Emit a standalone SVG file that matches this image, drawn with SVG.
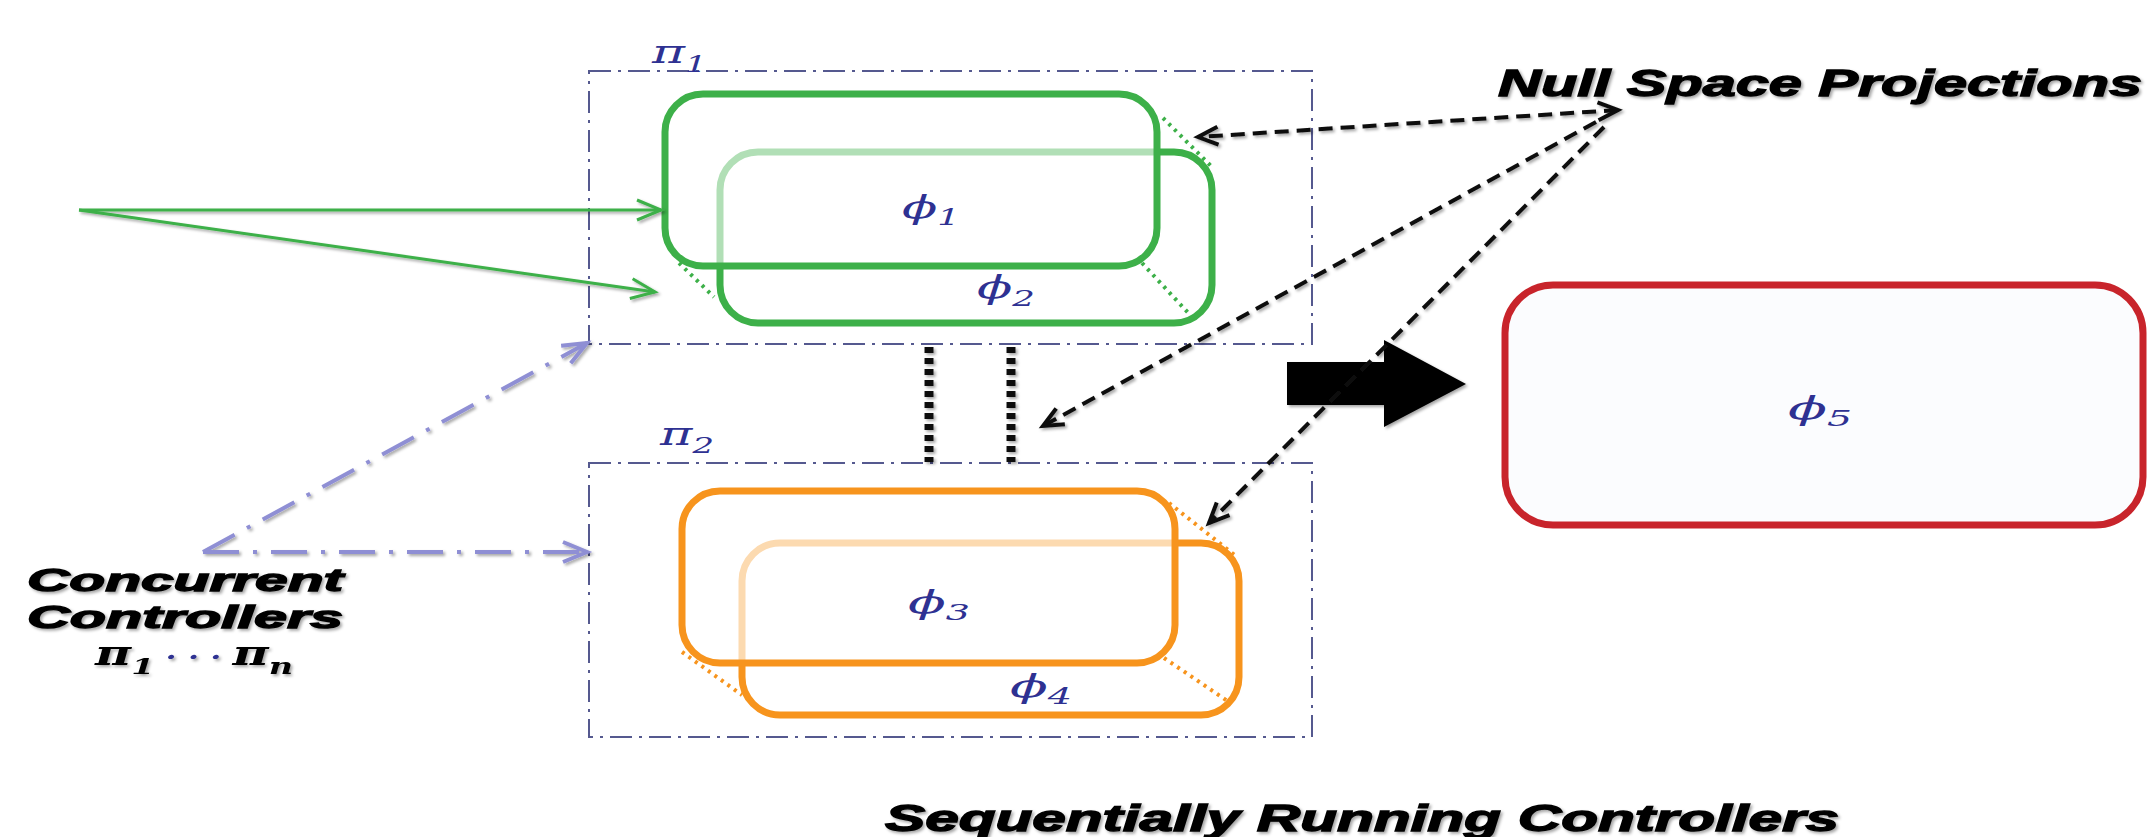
<svg xmlns="http://www.w3.org/2000/svg" width="2147" height="837" viewBox="0 0 2147 837">
<style>
.frame{fill:none;stroke:#55598f;stroke-width:2;stroke-dasharray:22 7 3 7}
.gbox{stroke:#3db049;stroke-width:7}
.obox{stroke:#f7941d;stroke-width:7}
.gdot{stroke:#3db049;stroke-width:4;stroke-dasharray:3 5;fill:none}
.odot{stroke:#f7941d;stroke-width:4;stroke-dasharray:3 5;fill:none}
.math{font-family:"DejaVu Serif","Liberation Serif",serif;font-style:italic;fill:#2e3192}
.big{font-family:"Liberation Sans",Arial,sans-serif;font-weight:bold;font-style:italic;fill:#000;stroke:#000;stroke-width:1.3}
.blk{fill:none;stroke:#111;stroke-width:4;stroke-dasharray:14 8}
.lav{fill:none;stroke:#8f8fd4;stroke-width:4;stroke-dasharray:36 14 4 14}
.grn{fill:none;stroke:#3db049;stroke-width:3}
.bar{fill:none;stroke:#111;stroke-width:9;stroke-dasharray:6 5}
</style>
<defs>
<filter id="sh" filterUnits="userSpaceOnUse" x="0" y="0" width="2147" height="837">
<feDropShadow dx="2" dy="2" stdDeviation="1.5" flood-color="#000" flood-opacity="0.35"/>
</filter>
<marker id="gh" markerUnits="userSpaceOnUse" refX="0" refY="0" markerWidth="40" markerHeight="40" orient="auto" overflow="visible">
<path d="M-24,-10 L0,0 L-24,10" fill="none" stroke="#3db049" stroke-width="3"/>
</marker>
<marker id="bh" markerUnits="userSpaceOnUse" refX="0" refY="0" markerWidth="40" markerHeight="40" orient="auto-start-reverse" overflow="visible">
<path d="M-20,-9 L0,0 L-20,9" fill="none" stroke="#111" stroke-width="4"/>
</marker>
<marker id="lh" markerUnits="userSpaceOnUse" refX="0" refY="0" markerWidth="40" markerHeight="40" orient="auto" overflow="visible">
<path d="M-24,-10 L0,0 L-24,10" fill="none" stroke="#8f8fd4" stroke-width="4"/>
</marker>
</defs>
<rect width="2147" height="837" fill="#fff"/>

<g id="pi1">
<rect class="frame" x="589" y="71" width="723" height="273"/>
<text class="math" x="652" y="63" font-size="32" textLength="55" lengthAdjust="spacingAndGlyphs">π<tspan font-size="22" dy="9">1</tspan></text>
</g>
<g id="pi2">
<rect class="frame" x="589" y="463" width="723" height="274"/>
<text class="math" x="660" y="445" font-size="32" textLength="54" lengthAdjust="spacingAndGlyphs">π<tspan font-size="22" dy="8">2</tspan></text>
</g>

<g id="phi2">
<path class="gdot" d="M1163,118 L1213,168 M679,263 L714,297 M1142,263 L1192,317"/>
<rect class="gbox" x="720" y="152" width="492" height="171" rx="38" fill="none"/>
<text class="math" x="977" y="298" font-size="32" textLength="58" lengthAdjust="spacingAndGlyphs">ϕ<tspan font-size="22" dy="8">2</tspan></text>
</g>
<g id="phi1">
<rect class="gbox" x="665" y="94" width="492" height="172" rx="38" fill="#fff" fill-opacity="0.6"/>
<text class="math" x="902" y="218" font-size="32" textLength="58" lengthAdjust="spacingAndGlyphs">ϕ<tspan font-size="22" dy="7">1</tspan></text>
</g>

<g id="phi4">
<path class="odot" d="M1169,503 L1237,557 M682,652 L742,695 M1164,658 L1229,702"/>
<rect class="obox" x="742" y="543" width="497" height="172" rx="38" fill="none"/>
<text class="math" x="1010" y="697" font-size="32" textLength="62" lengthAdjust="spacingAndGlyphs">ϕ<tspan font-size="22" dy="7">4</tspan></text>
</g>
<g id="phi3">
<rect class="obox" x="682" y="491" width="493" height="172" rx="38" fill="#fff" fill-opacity="0.65"/>
<text class="math" x="908" y="613" font-size="32" textLength="62" lengthAdjust="spacingAndGlyphs">ϕ<tspan font-size="22" dy="7">3</tspan></text>
</g>

<g id="phi5">
<rect x="1505" y="285" width="638" height="240" rx="48" fill="#fbfcfe" stroke="#c8242b" stroke-width="7"/>
<text class="math" x="1788" y="419" font-size="32" textLength="64" lengthAdjust="spacingAndGlyphs">ϕ<tspan font-size="22" dy="7">5</tspan></text>
</g>

<g id="label-null" filter="url(#sh)">
<text class="big" x="1498" y="96" font-size="37" textLength="644" lengthAdjust="spacingAndGlyphs">Null Space Projections</text>
</g>
<g id="label-concurrent" filter="url(#sh)">
<text class="big" x="27" y="591" font-size="31" textLength="316" lengthAdjust="spacingAndGlyphs">Concurrent</text>
<text class="big" x="27" y="628" font-size="31" textLength="316" lengthAdjust="spacingAndGlyphs">Controllers</text>
<text x="95" y="665" font-family="'DejaVu Serif','Liberation Serif',serif" font-weight="bold" font-style="italic" font-size="34" fill="#000" textLength="198" lengthAdjust="spacingAndGlyphs">π<tspan font-size="23" dy="9">1</tspan><tspan fill="#2e3192" font-size="22" dy="-9"> · · · </tspan>π<tspan font-size="23" dy="9">n</tspan></text>
</g>
<g id="label-sequential" filter="url(#sh)">
<text class="big" x="885" y="831" font-size="36" textLength="954" lengthAdjust="spacingAndGlyphs">Sequentially Running Controllers</text>
</g>

<g id="connectors" filter="url(#sh)">
<line class="grn" x1="79" y1="210" x2="661" y2="210" marker-end="url(#gh)"/>
<line class="grn" x1="79" y1="210" x2="655" y2="292" marker-end="url(#gh)"/>
<line class="lav" x1="203" y1="552" x2="587" y2="343" marker-end="url(#lh)"/>
<line class="lav" x1="203" y1="552" x2="587" y2="552" marker-end="url(#lh)"/>
<line class="bar" x1="929" y1="347" x2="929" y2="462"/>
<line class="bar" x1="1011" y1="347" x2="1011" y2="462"/>
<polygon points="1287,362 1384,362 1384,340 1466,384 1384,427 1384,405 1287,405" fill="#000"/>
<line class="blk" x1="1618" y1="110" x2="1198" y2="137" marker-start="url(#bh)" marker-end="url(#bh)"/>
<line class="blk" x1="1596" y1="122" x2="1043" y2="426" marker-end="url(#bh)"/>
<line class="blk" x1="1604" y1="127" x2="1209" y2="523" marker-end="url(#bh)"/>
</g>
</svg>
